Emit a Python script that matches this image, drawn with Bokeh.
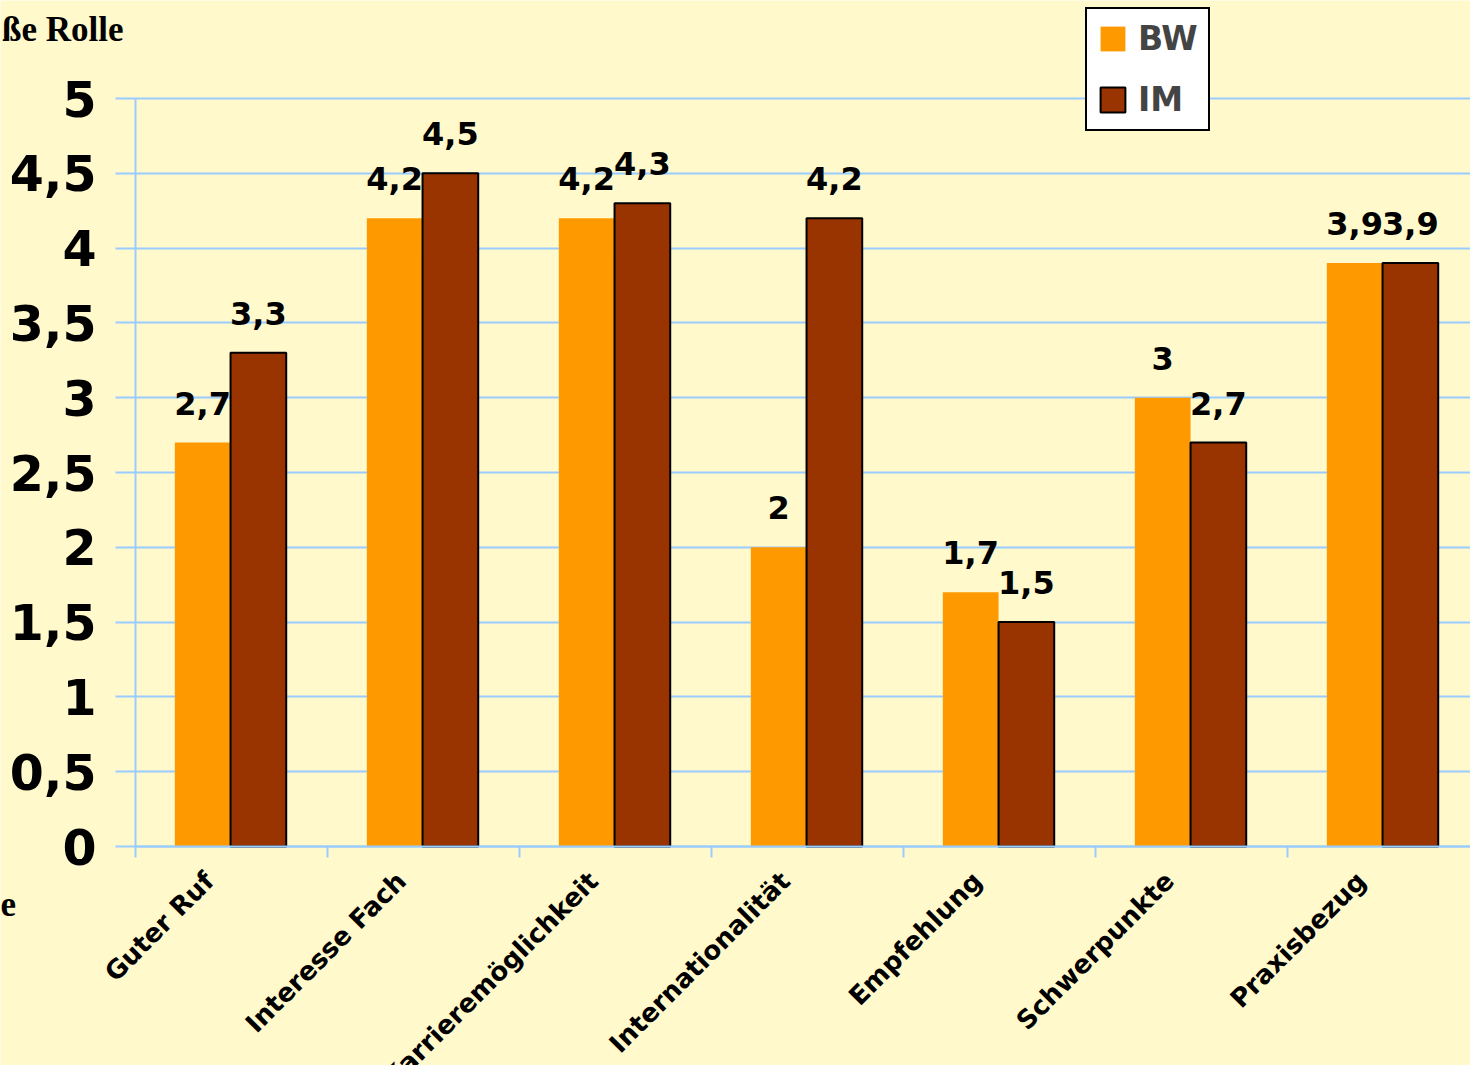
import numpy as np
from bokeh.plotting import figure
from bokeh.models import (ColumnDataSource, Range1d, FixedTicker, LabelSet, Label,
                          Legend, LegendItem, CustomJSTickFormatter)
from bokeh.core.properties import value
from bokeh.embed import file_html
from bokeh.resources import INLINE

# ---- data ----
categories = ["Guter Ruf", "Interesse Fach", "Karrieremöglichkeit", "Internationalität",
              "Empfehlung", "Schwerpunkte", "Praxisbezug"]
bw_values = [2.7, 4.2, 4.2, 2.0, 1.7, 3.0, 3.9]
im_values = [3.3, 4.5, 4.3, 4.2, 1.5, 2.7, 3.9]
series_names = ["BW", "IM"]
y_ticks = [0, 0.5, 1, 1.5, 2, 2.5, 3, 3.5, 4, 4.5, 5]
category_boundaries = [0, 1, 2, 3, 4, 5, 6, 7]

# ---- style / layout ----
BG = "#FFF9CC"
GRID = "#99CCFF"
C_BW = "#FF9900"
C_IM = "#993300"
FONT = "DejaVu Sans"
W, H = 1470, 1065
PX_X = 192.0      # pixels per category
PX_Y = 149.6      # pixels per value unit
X0, Y0 = 135, 846  # pixel position of the origin

def fmt(v):
    return f"{v:g}".replace(".", ",")

n = len(categories)
centers = np.arange(n) + 0.495
bar_w = 0.29

src_bw = ColumnDataSource(dict(x=centers - bar_w / 2, top=bw_values,
                               label=[fmt(v) for v in bw_values]))
src_im = ColumnDataSource(dict(x=centers + bar_w / 2, top=im_values,
                               label=[fmt(v) for v in im_values]))

x_lo, x_hi = -X0 / PX_X, (W - X0) / PX_X
y_lo, y_hi = -(H - Y0) / PX_Y, Y0 / PX_Y

p = figure(width=W, height=H, title=None,
           x_range=Range1d(x_lo, x_hi), y_range=Range1d(y_lo, y_hi),
           output_backend="svg", toolbar_location=None,
           min_border_left=0, min_border_right=0,
           min_border_top=0, min_border_bottom=0)
p.background_fill_color = BG
p.border_fill_color = BG
p.outline_line_color = None
p.xgrid.visible = False
p.ygrid.ticker = FixedTicker(ticks=y_ticks)
p.ygrid.grid_line_color = GRID
p.ygrid.grid_line_width = 2
p.ygrid.cross_bounds = (0, x_hi)

# y axis
p.yaxis.fixed_location = 0
p.yaxis.bounds = (0, 5)
p.yaxis.ticker = FixedTicker(ticks=y_ticks, minor_ticks=[])
p.yaxis.formatter = CustomJSTickFormatter(code="return tick.toString().replace('.', ',')")
p.yaxis.axis_line_color = GRID
p.yaxis.axis_line_width = 2
p.yaxis.major_tick_line_color = GRID
p.yaxis.major_tick_line_width = 2
p.yaxis.major_tick_out = 20
p.yaxis.major_tick_in = 0
p.yaxis.minor_tick_line_color = None
p.yaxis.major_label_text_font = FONT
p.yaxis.major_label_text_font_style = "bold"
p.yaxis.major_label_text_font_size = "49px"
p.yaxis.major_label_text_color = "black"
p.yaxis.major_label_standoff = 19

# x axis: category labels near centres, tick marks at category boundaries
label_ticks = [float(c - 0.11) for c in centers]
p.xaxis.fixed_location = 0
p.xaxis.bounds = (0, 7)
p.xaxis.ticker = FixedTicker(ticks=label_ticks, minor_ticks=category_boundaries)
p.xaxis.major_label_overrides = {t: cat for t, cat in zip(label_ticks, categories)}
p.xaxis.axis_line_color = GRID
p.xaxis.axis_line_width = 2
p.xaxis.major_tick_line_color = None
p.xaxis.major_tick_out = 0
p.xaxis.major_tick_in = 0
p.xaxis.minor_tick_line_color = GRID
p.xaxis.minor_tick_line_width = 2
p.xaxis.minor_tick_out = 11
p.xaxis.minor_tick_in = 0
p.xaxis.major_label_orientation = np.pi / 4
p.xaxis.major_label_standoff = 19
p.xaxis.major_label_text_font = FONT
p.xaxis.major_label_text_font_style = "bold"
p.xaxis.major_label_text_font_size = "26px"
p.xaxis.major_label_text_color = "black"

r_bw = p.vbar(x="x", top="top", width=bar_w, source=src_bw,
              fill_color=C_BW, line_color=None)
r_im = p.vbar(x="x", top="top", width=bar_w, source=src_im,
              fill_color=C_IM, line_color="black", line_width=2)

for src in (src_bw, src_im):
    p.add_layout(LabelSet(x="x", y="top", text="label", source=src,
                          text_align="center", text_baseline="alphabetic",
                          y_offset=28, text_font=value(FONT), text_font_style="bold",
                          text_font_size="32px", text_color="black"))

legend = Legend(items=[LegendItem(label=series_names[0], renderers=[r_bw]),
                       LegendItem(label=series_names[1], renderers=[r_im])],
                location=(1085, H - 131))
legend.label_text_font = FONT
legend.label_text_font_style = "bold"
legend.label_text_font_size = "33px"
legend.glyph_width = 31
legend.glyph_height = 31
legend.label_height = 36
legend.spacing = 22
legend.padding = 10
legend.margin = 0
legend.label_standoff = 10
legend.border_line_color = "black"
legend.border_line_alpha = 1
legend.border_line_width = 2
legend.background_fill_color = "white"
legend.background_fill_alpha = 1
p.add_layout(legend)

p.add_layout(Label(x=(123 - X0) / PX_X, y=(Y0 - 29) / PX_Y, text="ße Rolle",
                   text_align="right", text_baseline="alphabetic",
                   text_font="Liberation Serif", text_font_style="bold",
                   text_font_size="35px", text_color="black"))
p.add_layout(Label(x=x_lo, y=-(903 - Y0) / PX_Y, text="e", text_align="left",
                   text_baseline="alphabetic", text_font="Liberation Serif",
                   text_font_style="bold", text_font_size="35px", text_color="black"))

open("out.html", "w").write(file_html(p, INLINE))
